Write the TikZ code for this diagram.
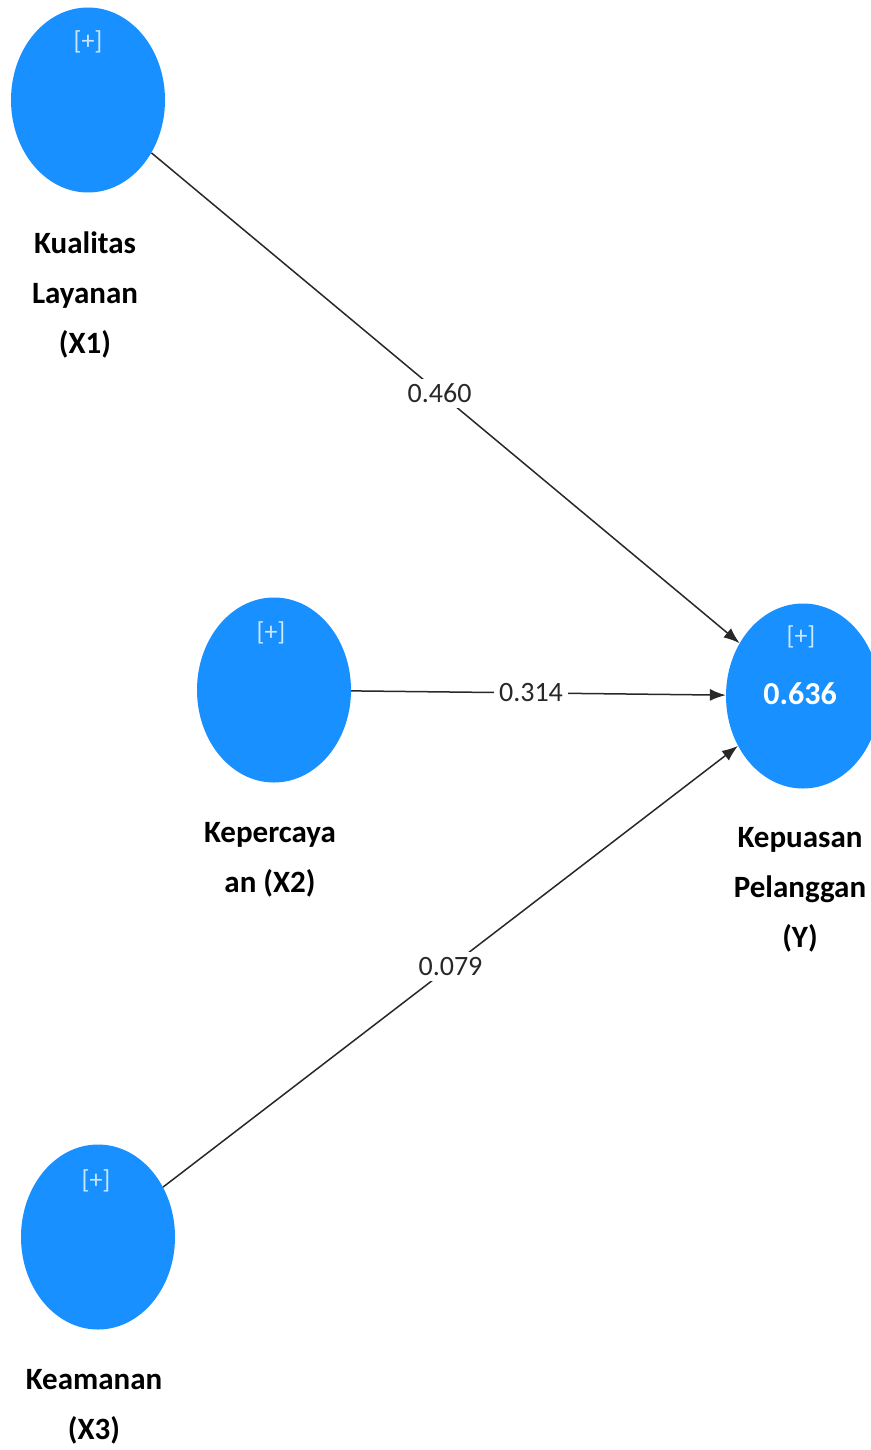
\documentclass[tikz,border=0pt]{standalone}
\usepackage{fontspec}
\setmainfont{Carlito}
\usetikzlibrary{arrows.meta,shapes.geometric}
\definecolor{lvblue}{RGB}{24,144,255}
\definecolor{plusc}{RGB}{205,230,255}
\definecolor{edgec}{RGB}{40,40,40}
\begin{document}
\begin{tikzpicture}[x=1pt,y=-1pt,
  latent/.style={ellipse,fill=lvblue,draw=none,minimum width=154pt,minimum height=185pt,inner sep=0pt},
  plus/.style={text=plusc,font=\fontsize{26}{30}\selectfont,inner sep=0pt},
  rsq/.style={text=white,font=\bfseries\fontsize{32}{36}\selectfont,inner sep=0pt},
  vlabel/.style={align=center,font=\bfseries\fontsize{31}{50}\selectfont,inner sep=0pt,text=black},
  path/.style={draw=edgec,line width=1.5pt,-{Latex[length=16pt,width=12pt]}},
  coef/.style={fill=white,inner sep=5pt,text=edgec,font=\fontsize{28}{30}\selectfont}]
\useasboundingbox (0,0) rectangle (870,1450);
\fill[white] (0,0) rectangle (870,1450);
% constructs
\node[latent] (x1) at (88,100) {};
\node[latent] (x2) at (274,690) {};
\node[latent] (x3) at (98,1237) {};
\node[latent] (y) at (803,696) {};
% inner texts
\node[plus] (p1) at (88,42) {[+]};
\node[plus] (p2) at (271,633) {[+]};
\node[plus] (p3) at (96,1181) {[+]};
\node[plus] (p4) at (801,637) {[+]};
\node[rsq] (r2) at (800,694) {0.636};
% labels
\node[vlabel] (l1) at (85,295) {Kualitas\\Layanan\\(X1)};
\node[vlabel] (l2) at (270,860) {Kepercaya\\an (X2)};
\node[vlabel] (l3) at (800,890) {Kepuasan\\Pelanggan\\(Y)};
\node[vlabel] (l4) at (94,1407) {Keamanan\\(X3)};
% paths
\draw[path] (x1) -- node[coef,pos=0.49] {0.460} (y);
\draw[path] (x2) -- node[coef,pos=0.48] {0.314} (y);
\draw[path] (x3) -- node[coef,pos=0.5] {0.079} (y);
\end{tikzpicture}
\end{document}
